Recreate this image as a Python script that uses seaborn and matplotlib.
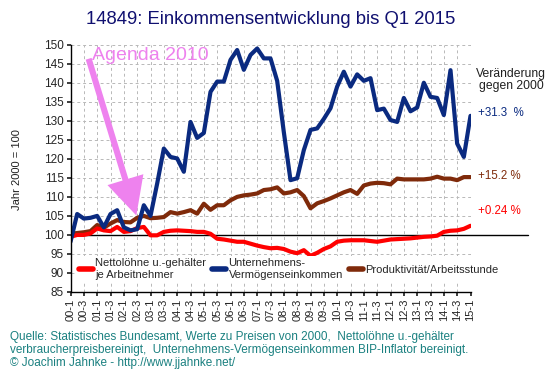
import numpy as np
import matplotlib
matplotlib.use("Agg")
import matplotlib.pyplot as plt
from matplotlib.lines import Line2D
import seaborn as sns

# quarterly values 2000 Q1 .. 2015 Q1, Jahr 2000 = 100
nettoloehne = [99.5, 100.0, 100.0, 100.4, 101.7, 101.2, 101.0, 102.1, 100.8, 101.0,
               101.8, 102.1, 99.9, 99.9, 100.8, 101.1, 101.2, 101.1, 101.0, 100.8,
               100.8, 100.3, 99.0, 98.8, 98.5, 98.2, 98.2, 97.7, 97.2, 96.8,
               96.5, 96.6, 96.3, 95.6, 95.2, 96.0, 94.5, 95.3, 96.3, 97.0,
               98.2, 98.5, 98.6, 98.6, 98.6, 98.4, 98.2, 98.5, 98.8, 98.9,
               99.0, 99.1, 99.3, 99.5, 99.6, 99.8, 100.8, 101.1, 101.2, 101.6,
               102.4]
unternehmen = [98.2, 105.5, 104.3, 104.5, 105.0, 102.0, 105.5, 106.5, 102.0, 101.2,
               101.5, 107.8, 105.0, 113.5, 122.7, 120.5, 120.1, 116.6, 129.7, 125.5,
               126.8, 137.6, 140.3, 140.3, 146.0, 148.6, 143.4, 147.3, 149.0, 146.4,
               146.4, 140.5, 127.0, 114.4, 114.9, 122.3, 127.6, 128.0, 130.5, 133.3,
               139.0, 142.9, 139.0, 142.2, 140.5, 141.2, 132.8, 133.2, 130.2, 129.7,
               136.0, 132.5, 133.5, 140.0, 136.3, 136.0, 131.5, 143.3, 124.0, 120.5,
               131.3]
produktivitaet = [100.3, 100.5, 100.7, 101.0, 102.6, 101.9, 103.0, 103.9, 103.4, 103.3,
                  104.5, 105.0, 104.4, 104.5, 104.7, 106.0, 105.6, 106.0, 106.5, 105.6,
                  108.2, 106.6, 107.8, 107.8, 109.1, 110.0, 110.4, 110.6, 110.9, 111.8,
                  112.0, 112.5, 110.9, 111.2, 111.8, 110.2, 107.0, 108.3, 108.9, 109.6,
                  110.4, 111.2, 111.8, 110.8, 113.0, 113.5, 113.7, 113.6, 113.3, 114.8,
                  114.6, 114.6, 114.6, 114.6, 114.8, 115.3, 114.8, 114.8, 114.4, 115.2,
                  115.2]
quarters = [f"{i // 4:02d}-{i % 4 + 1}" for i in range(61)]
tick_labels = quarters[::2]
veraenderung = ["+31.3  %", "+15.2 %", "+0.24 %"]

RED = "#FF0000"
BLUE = "#0A2A80"
BROWN = "#7F2A0A"
VIOLET = "#EE82EE"
TEAL = "#1A8080"

sns.set_theme(style="white")
plt.rcParams["font.family"] = ["Liberation Sans", "DejaVu Sans"]

W, H = 553, 376
fig = plt.figure(figsize=(W / 100, H / 100), dpi=100)
ax = fig.add_axes([70.5 / W, 1 - 292 / H, 400 / W, 247.3 / H])

x = np.arange(len(quarters))
sns.lineplot(x=x, y=produktivitaet, color=BROWN, lw=3, ax=ax)
sns.lineplot(x=x, y=nettoloehne, color=RED, lw=3, ax=ax)
sns.lineplot(x=x, y=unternehmen, color=BLUE, lw=3, ax=ax)

ax.set_xlim(0, 60)
ax.set_ylim(85, 150)
ax.set_yticks(np.arange(85, 151, 5))
ax.set_xticks(x[::2])
ax.set_xticklabels(tick_labels, rotation=90, fontsize=8)
ax.tick_params(axis="y", labelsize=8.5, length=3, pad=2, left=True)
ax.tick_params(axis="x", length=3, pad=2, bottom=True)
ax.grid(True, color="#B8B8B8", ls=(0, (3, 3)), lw=0.7)
for s in ["top", "right"]:
    ax.spines[s].set_visible(False)
for s in ["left", "bottom"]:
    ax.spines[s].set_color("black")
    ax.spines[s].set_linewidth(1)

# 100-line, running on into the notes column
ax.axhline(100, xmin=0, xmax=1.144, color="black", lw=1, clip_on=False, zorder=1)

# Agenda 2010
ax.text(3.2, 147.2, "Agenda 2010", color=VIOLET, fontsize=14, va="center", ha="left")
ax.annotate("", xy=(10.0, 104.4), xytext=(2.6, 147.0),
            arrowprops=dict(arrowstyle="simple,head_length=1.35,head_width=1.35,tail_width=0.22",
                            color=VIOLET, mutation_scale=20, lw=0))

handles = [Line2D([], [], color=RED, lw=4),
           Line2D([], [], color=BLUE, lw=4),
           Line2D([], [], color=BROWN, lw=4)]
labels = ["Nettolöhne u.-gehälter\nje Arbeitnehmer",
          "Unternehmens-\nVermögenseinkommen",
          "Produktivität/Arbeitsstunde"]
leg = ax.legend(handles, labels, ncol=3, loc="upper left", bbox_to_anchor=(0.015, 0.145),
                fontsize=8, frameon=True, facecolor="white", edgecolor="none",
                handlelength=1.3, handletextpad=0.2, columnspacing=0.5,
                borderpad=0.2, borderaxespad=0, labelspacing=0.2, fancybox=False)
leg.get_frame().set_alpha(1)


def fx(px):
    return px / W


def fy(py):
    return 1 - py / H


fig.text(fx(271), fy(19), "14849: Einkommensentwicklung bis Q1 2015",
         color="#101070", fontsize=13.3, ha="center", va="center")
fig.text(fx(17), fy(170), "Jahr 2000 = 100", rotation=90, fontsize=8,
         ha="center", va="center", color="#202020")
fig.text(fx(511), fy(80), "Veränderung\ngegen 2000", fontsize=8.7, ha="center",
         va="center", linespacing=1.1, color="#202020")
for txt, col, yy in zip(veraenderung, [BLUE, BROWN, RED], [113, 176, 211]):
    fig.text(fx(478), fy(yy), txt, color=col, fontsize=8.3, ha="left", va="center")

fig.text(fx(10), fy(350),
         "Quelle: Statistisches Bundesamt, Werte zu Preisen von 2000,  Nettolöhne u.-gehälter\n"
         "verbraucherpreisbereinigt,  Unternehmens-Vermögenseinkommen BIP-Inflator bereinigt.\n"
         "© Joachim Jahnke - http://www.jjahnke.net/",
         color=TEAL, fontsize=8.5, ha="left", va="center", linespacing=1.1)

fig.savefig("out.png", dpi=100)
